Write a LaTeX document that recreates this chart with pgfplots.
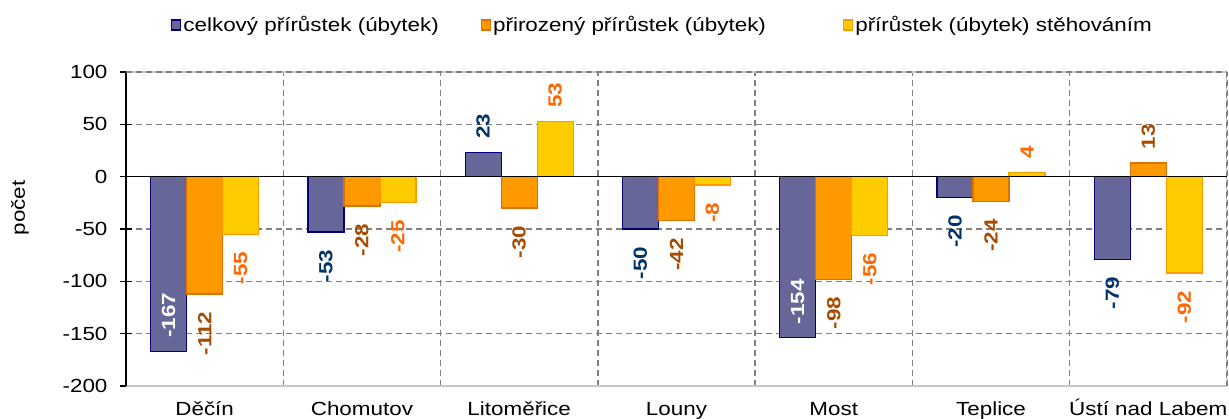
\documentclass[border=0pt]{standalone}
\usepackage{fontspec}
\setmainfont{Liberation Sans}[FakeStretch=1.18]
\usepackage{pgfplots}
\pgfplotsset{compat=1.18}
\definecolor{fillA}{HTML}{666699}
\definecolor{drawA}{HTML}{000080}
\definecolor{fillB}{HTML}{FF9900}
\definecolor{drawB}{HTML}{E07000}
\definecolor{fillC}{HTML}{FFCC00}
\definecolor{drawC}{HTML}{FF9900}
\definecolor{labA}{HTML}{003366}
\definecolor{labB}{HTML}{A64B00}
\definecolor{labC}{HTML}{FF6600}
\definecolor{gridc}{HTML}{808080}
\definecolor{framec}{HTML}{C8C8C8}

\newcommand{\fs}{\fontsize{19}{22}\selectfont}

\begin{document}
\begin{tikzpicture}
\useasboundingbox (-126pt,-33pt) rectangle (1103pt,386pt);
\begin{axis}[
  scale only axis, width=1101pt, height=314pt,
  ybar=0pt, bar width=36pt,
  xmin=-0.5, xmax=6.5, ymin=-200, ymax=100,
  xtick={0,...,6},
  xticklabels={Děčín,Chomutov,Litoměřice,Louny,Most,Teplice,Ústí nad Labem},
  minor xtick={0.5,1.5,...,6.5},
  ytick={-200,-150,...,100},
  axis x line*=bottom, axis y line*=left,
  x axis line style={draw=framec, line width=1.2pt, -},
  y axis line style={draw=black, line width=1.3pt, -},
  ymajorgrids, xminorgrids,
  major grid style={draw=gridc, line width=1.3pt, dash pattern=on 6pt off 4pt},
  minor grid style={draw=gridc, line width=1.4pt, dash pattern=on 6pt off 4pt},
  xtick style={draw=none}, minor x tick style={draw=none},
  ytick style={draw=black, line width=1.3pt},
  tick align=center, major tick length=12pt,
  /pgf/number format/assume math mode=true,
  ticklabel style={font=\fs},
  xticklabel style={anchor=base, yshift=-24pt},
  yticklabel style={anchor=east, xshift=-9pt},
  ylabel={počet}, ylabel style={font=\fs, at={(axis description cs:-0.0963,0.567)}, anchor=center},
  legend style={draw=none, fill=none, at={(axis description cs:0.4873,1.1497)}, anchor=center,
    font=\fs, /tikz/every even column/.append style={column sep=40pt}},
  legend columns=3,
  legend image code/.code={\draw[#1, line width=1.3pt] (0pt,-5pt) rectangle (9pt,5pt);},
  nodes near coords={\pgfmathprintnumber[assume math mode=true]{\pgfplotspointmeta}},
  visualization depends on={value \thisrow{anc} \as \myanc},
  visualization depends on={\thisrow{sh} \as \mysh},
  visualization depends on={value \thisrow{col} \as \mycol},
  every node near coord/.append style={yshift=\mysh pt, rotate=90, anchor=\myanc, text=\mycol, font=\fs\bfseries, inner sep=0pt},
]
\draw[framec, line width=1.2pt] (axis cs:-0.5,100) -- (axis cs:6.5,100) -- (axis cs:6.5,-200);
\draw[gridc, line width=1.3pt, dash pattern=on 6pt off 4pt] (axis cs:-0.5,100) -- (axis cs:6.5,100);
\draw[gridc, line width=1.4pt, dash pattern=on 6pt off 4pt] (axis cs:6.5,100) -- (axis cs:6.5,-200);
\addplot[fill=fillA, draw=drawA, line width=1.3pt] table[x=x,y=y] {
x y anc sh col
0 -167 west 13 white
1 -53 east -17 labA
2 23 west 13 labA
3 -50 east -17 labA
4 -154 west 13 white
5 -20 east -17 labA
6 -79 east -17 labA
};
\addplot[fill=fillB, draw=drawB, line width=1.3pt] table[x=x,y=y] {
x y anc sh col
0 -112 east -17 labB
1 -28 east -17 labB
2 -30 east -17 labB
3 -42 east -17 labB
4 -98 east -17 labB
5 -24 east -17 labB
6 13 west 13 labB
};
\addplot[fill=fillC, draw=drawC, line width=1.3pt] table[x=x,y=y] {
x y anc sh col
0 -55 east -17 labC
1 -25 east -17 labC
2 53 west 13 labC
3 -8 east -17 labC
4 -56 east -17 labC
5 4 west 13 labC
6 -92 east -17 labC
};
\legend{celkový přírůstek (úbytek),přirozený přírůstek (úbytek)\rule{35pt}{0pt},přírůstek (úbytek) stěhováním}
\draw[black, line width=1.3pt] (axis cs:-0.5,0) -- (axis cs:6.5,0);
\draw[black, line width=1.3pt] (axis cs:0.5,0) ++(0,-6pt) -- ++(0,12pt);
\draw[black, line width=1.3pt] (axis cs:1.5,0) ++(0,-6pt) -- ++(0,12pt);
\draw[black, line width=1.3pt] (axis cs:2.5,0) ++(0,-6pt) -- ++(0,12pt);
\draw[black, line width=1.3pt] (axis cs:3.5,0) ++(0,-6pt) -- ++(0,12pt);
\draw[black, line width=1.3pt] (axis cs:4.5,0) ++(0,-6pt) -- ++(0,12pt);
\draw[black, line width=1.3pt] (axis cs:5.5,0) ++(0,-6pt) -- ++(0,12pt);
\draw[black, line width=1.3pt] (axis cs:6.5,0) ++(0,-6pt) -- ++(0,12pt);
\end{axis}
\end{tikzpicture}
\end{document}
